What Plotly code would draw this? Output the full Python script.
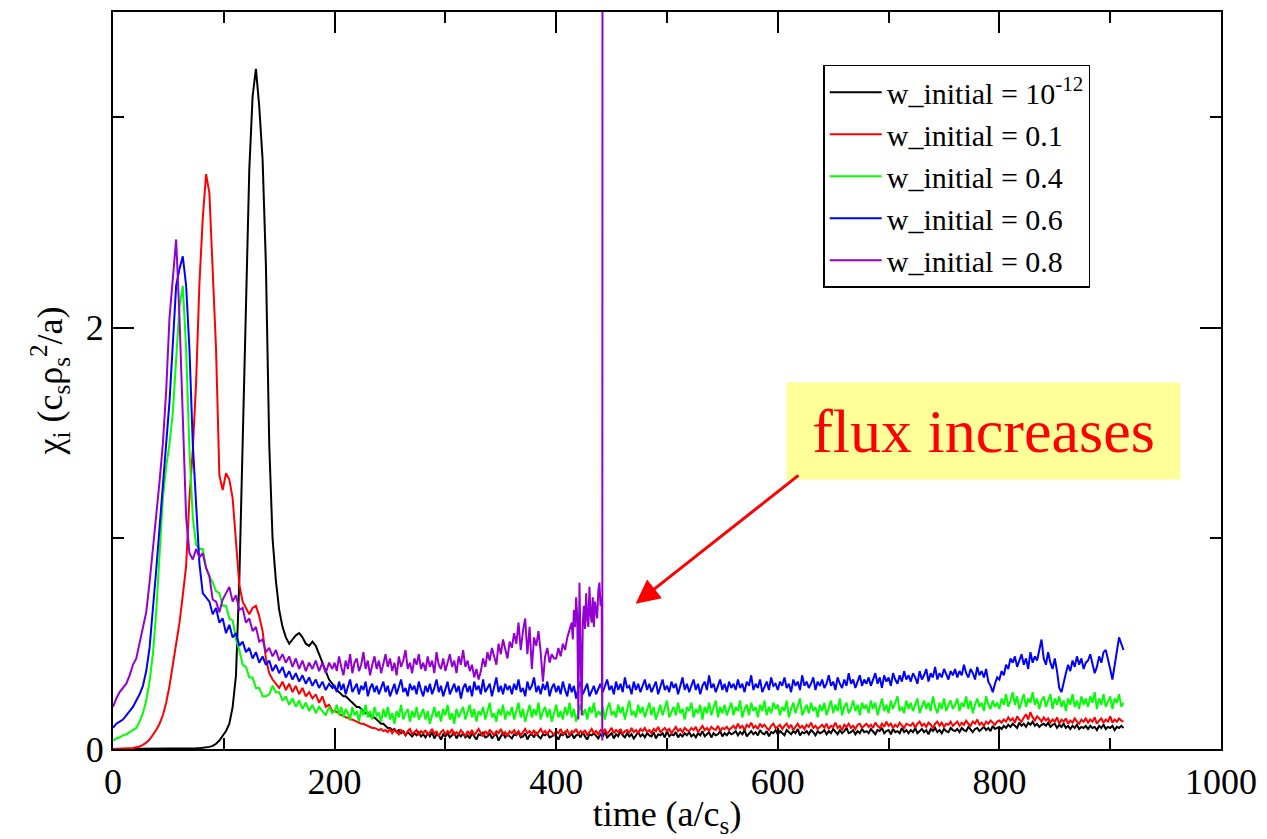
import plotly.graph_objects as go

# ---------------- data ----------------
# early part of every run: t = 0, 3, ..., 198
t_early = list(range(0, 199, 3))
# later, noisy part: t = 200, 202, ..., 912
t_late = list(range(200, 913, 2))

black_early = [0, 0, 0, 0, 0, 0, 0, 0, 0, 0,
               0, 0, 0, 0, 0, 0, 0, 0, 0, 0,
               0, 0, 0.001, 0.001, 0.002, 0.003, 0.004, 0.005, 0.007, 0.01,
               0.015, 0.025, 0.04, 0.06, 0.085, 0.12, 0.2, 0.35, 0.8, 1.45,
               2.1, 2.75, 3.1, 3.23, 3.05, 2.8, 2.3, 1.45, 1.0, 0.8,
               0.66, 0.58, 0.53, 0.5, 0.52, 0.54, 0.55, 0.53, 0.5, 0.49,
               0.51, 0.49, 0.45, 0.41, 0.37, 0.33, 0.31]
black_late = [
    0.29, 0.28, 0.27, 0.26, 0.25, 0.25, 0.24, 0.23, 0.22, 0.21, 0.2, 0.2, 0.19, 0.18, 0.17, 0.17, 0.16, 0.15, 0.15, 0.14,
    0.13, 0.12, 0.12, 0.11, 0.1, 0.1, 0.09, 0.095, 0.08, 0.09, 0.075, 0.085, 0.065, 0.08, 0.07, 0.06, 0.075, 0.065, 0.08, 0.06,
    0.07, 0.055, 0.075, 0.06, 0.08, 0.05, 0.07, 0.065, 0.045, 0.07, 0.06, 0.075, 0.055, 0.065, 0.08, 0.05, 0.07, 0.06, 0.075, 0.055,
    0.065, 0.05, 0.075, 0.06, 0.045, 0.07, 0.065, 0.08, 0.055, 0.06, 0.075, 0.05, 0.065, 0.07, 0.04, 0.06, 0.075, 0.055, 0.07, 0.06,
    0.05, 0.07, 0.065, 0.08, 0.055, 0.06, 0.075, 0.045, 0.065, 0.07, 0.055, 0.08, 0.06, 0.05, 0.07, 0.065, 0.075, 0.055, 0.06, 0.07,
    0.06, 0.045, 0.07, 0.065, 0.08, 0.055, 0.06, 0.075, 0.05, 0.065, 0.07, 0.055, 0.08, 0.06, 0.045, 0.07, 0.065, 0.075, 0.06, 0.05,
    0.07, 0.06, 0.08, 0.055, 0.065, 0.075, 0.05, 0.07, 0.06, 0.085, 0.065, 0.055, 0.075, 0.06, 0.07, 0.05, 0.065, 0.08, 0.06, 0.07,
    0.055, 0.075, 0.065, 0.06, 0.08, 0.05, 0.07, 0.065, 0.075, 0.055, 0.085, 0.06, 0.07, 0.065, 0.08, 0.055, 0.07, 0.06, 0.075, 0.065,
    0.08, 0.06, 0.07, 0.055, 0.075, 0.065, 0.085, 0.06, 0.07, 0.08, 0.055, 0.075, 0.065, 0.07, 0.085, 0.06, 0.075, 0.065, 0.08, 0.07,
    0.075, 0.085, 0.065, 0.08, 0.07, 0.09, 0.06, 0.075, 0.085, 0.07, 0.08, 0.065, 0.09, 0.075, 0.07, 0.085, 0.06, 0.08, 0.075, 0.09,
    0.07, 0.085, 0.075, 0.065, 0.09, 0.08, 0.07, 0.085, 0.075, 0.095, 0.065, 0.08, 0.075, 0.085, 0.07, 0.09, 0.08, 0.065, 0.085, 0.075,
    0.08, 0.09, 0.07, 0.085, 0.075, 0.095, 0.08, 0.07, 0.09, 0.075, 0.085, 0.1, 0.075, 0.08, 0.09, 0.07, 0.085, 0.075, 0.095, 0.08,
    0.085, 0.075, 0.095, 0.08, 0.07, 0.09, 0.085, 0.1, 0.075, 0.085, 0.09, 0.07, 0.095, 0.08, 0.085, 0.075, 0.1, 0.08, 0.09, 0.075,
    0.09, 0.08, 0.1, 0.075, 0.085, 0.095, 0.08, 0.09, 0.07, 0.095, 0.085, 0.1, 0.08, 0.09, 0.075, 0.095, 0.085, 0.08, 0.1, 0.09,
    0.085, 0.095, 0.08, 0.1, 0.09, 0.085, 0.105, 0.09, 0.08, 0.095, 0.1, 0.085, 0.095, 0.105, 0.09, 0.1, 0.085, 0.11, 0.095, 0.1,
    0.105, 0.095, 0.11, 0.1, 0.115, 0.105, 0.12, 0.11, 0.1, 0.125, 0.11, 0.12, 0.105, 0.125, 0.115, 0.13, 0.11, 0.12, 0.105, 0.115,
    0.12, 0.11, 0.125, 0.105, 0.115, 0.12, 0.1, 0.115, 0.105, 0.12, 0.1, 0.11, 0.095, 0.11, 0.1, 0.115, 0.095, 0.105, 0.1, 0.11,
    0.095, 0.11, 0.1, 0.105, 0.09, 0.11, 0.1, 0.115, 0.095, 0.105, 0.1, 0.11, 0.09, 0.105, 0.1, 0.11, 0.1]

red_early = [0, 0, 0, 0.001, 0.002, 0.003, 0.005, 0.008, 0.012, 0.02,
             0.03, 0.045, 0.065, 0.09, 0.12, 0.16, 0.22, 0.3, 0.4, 0.5,
             0.6, 0.73, 0.87, 1.19, 1.42, 1.74, 2.21, 2.52, 2.73, 2.64,
             2.3, 1.9, 1.3, 1.23, 1.31, 1.28, 1.19, 1.0, 0.78, 0.7,
             0.67, 0.64, 0.67, 0.68, 0.63, 0.56, 0.43, 0.36, 0.33, 0.31,
             0.29, 0.32, 0.28, 0.31, 0.27, 0.3, 0.26, 0.29, 0.25, 0.27,
             0.24, 0.26, 0.22, 0.25, 0.2, 0.21, 0.18]
red_late = [
    0.18, 0.175, 0.17, 0.16, 0.16, 0.15, 0.15, 0.14, 0.14, 0.135, 0.13, 0.125, 0.12, 0.12, 0.115, 0.11, 0.105, 0.1, 0.1, 0.095,
    0.09, 0.095, 0.085, 0.09, 0.08, 0.095, 0.075, 0.09, 0.085, 0.07, 0.09, 0.08, 0.065, 0.085, 0.095, 0.07, 0.08, 0.09, 0.065, 0.085,
    0.075, 0.09, 0.065, 0.08, 0.095, 0.07, 0.085, 0.06, 0.08, 0.09, 0.07, 0.085, 0.075, 0.095, 0.065, 0.08, 0.07, 0.09, 0.075, 0.06,
    0.085, 0.07, 0.09, 0.065, 0.08, 0.095, 0.075, 0.06, 0.085, 0.07, 0.09, 0.08, 0.065, 0.085, 0.075, 0.095, 0.07, 0.08, 0.06, 0.085,
    0.075, 0.09, 0.07, 0.085, 0.065, 0.08, 0.095, 0.075, 0.085, 0.07, 0.09, 0.065, 0.08, 0.095, 0.075, 0.085, 0.07, 0.09, 0.08, 0.065,
    0.085, 0.075, 0.095, 0.07, 0.08, 0.09, 0.065, 0.085, 0.08, 0.095, 0.07, 0.085, 0.075, 0.09, 0.065, 0.08, 0.095, 0.075, 0.085, 0.07,
    0.09, 0.08, 0.095, 0.07, 0.085, 0.1, 0.075, 0.09, 0.08, 0.095, 0.07, 0.085, 0.09, 0.075, 0.1, 0.08, 0.09, 0.075, 0.095, 0.085,
    0.1, 0.08, 0.09, 0.075, 0.095, 0.085, 0.105, 0.08, 0.09, 0.1, 0.085, 0.095, 0.075, 0.09, 0.105, 0.085, 0.095, 0.08, 0.1, 0.09,
    0.085, 0.1, 0.09, 0.105, 0.08, 0.095, 0.11, 0.09, 0.1, 0.085, 0.105, 0.095, 0.09, 0.11, 0.085, 0.1, 0.095, 0.105, 0.09, 0.1,
    0.11, 0.095, 0.12, 0.1, 0.11, 0.09, 0.115, 0.105, 0.125, 0.1, 0.11, 0.095, 0.12, 0.105, 0.115, 0.1, 0.09, 0.11, 0.12, 0.1,
    0.105, 0.115, 0.095, 0.11, 0.12, 0.1, 0.115, 0.09, 0.105, 0.12, 0.1, 0.11, 0.095, 0.115, 0.105, 0.125, 0.1, 0.11, 0.095, 0.105,
    0.115, 0.1, 0.12, 0.095, 0.11, 0.105, 0.125, 0.1, 0.11, 0.09, 0.115, 0.105, 0.12, 0.1, 0.11, 0.095, 0.115, 0.12, 0.1, 0.11,
    0.12, 0.105, 0.115, 0.1, 0.125, 0.11, 0.1, 0.12, 0.105, 0.13, 0.11, 0.12, 0.1, 0.115, 0.105, 0.125, 0.11, 0.1, 0.12, 0.115,
    0.11, 0.125, 0.1, 0.12, 0.13, 0.11, 0.12, 0.105, 0.125, 0.115, 0.1, 0.12, 0.13, 0.11, 0.125, 0.105, 0.12, 0.115, 0.13, 0.11,
    0.12, 0.13, 0.11, 0.125, 0.115, 0.135, 0.12, 0.11, 0.13, 0.12, 0.14, 0.115, 0.125, 0.11, 0.13, 0.12, 0.135, 0.125, 0.115, 0.13,
    0.135, 0.125, 0.14, 0.13, 0.15, 0.135, 0.145, 0.125, 0.155, 0.14, 0.13, 0.15, 0.165, 0.14, 0.175, 0.15, 0.135, 0.155, 0.145, 0.13,
    0.15, 0.135, 0.145, 0.125, 0.14, 0.13, 0.15, 0.12, 0.14, 0.13, 0.145, 0.12, 0.135, 0.125, 0.145, 0.13, 0.12, 0.14, 0.13, 0.145,
    0.125, 0.14, 0.13, 0.15, 0.12, 0.135, 0.145, 0.125, 0.14, 0.13, 0.155, 0.125, 0.14, 0.13, 0.145, 0.135, 0.13]

green_early = [0.04, 0.05, 0.055, 0.065, 0.07, 0.08, 0.09, 0.1, 0.13, 0.17,
               0.23, 0.32, 0.45, 0.65, 0.92, 1.19, 1.34, 1.45, 1.6, 1.85,
               2.1, 2.2, 1.9, 1.42, 1.1, 0.97, 0.95, 0.95, 0.86, 0.82,
               0.79, 0.75, 0.74, 0.68, 0.68, 0.62, 0.61, 0.52, 0.47, 0.4,
               0.39, 0.34, 0.34, 0.29, 0.29, 0.25, 0.25, 0.26, 0.3, 0.27,
               0.27, 0.23, 0.25, 0.21, 0.24, 0.2, 0.23, 0.19, 0.22, 0.18,
               0.21, 0.17, 0.2, 0.18, 0.16, 0.2, 0.17]
green_late = [
    0.18, 0.21, 0.16, 0.2, 0.15, 0.19, 0.17, 0.14, 0.2, 0.16, 0.18, 0.13, 0.19, 0.16, 0.21, 0.15, 0.18, 0.14, 0.2, 0.16,
    0.17, 0.13, 0.19, 0.15, 0.2, 0.14, 0.17, 0.12, 0.18, 0.15, 0.21, 0.14, 0.17, 0.19, 0.13, 0.18, 0.15, 0.2, 0.14, 0.17,
    0.19, 0.14, 0.18, 0.12, 0.16, 0.2, 0.15, 0.18, 0.13, 0.19, 0.16, 0.21, 0.14, 0.17, 0.12, 0.19, 0.15, 0.18, 0.2, 0.14,
    0.17, 0.21, 0.15, 0.19, 0.13, 0.18, 0.16, 0.2, 0.14, 0.18, 0.22, 0.15, 0.17, 0.13, 0.19, 0.16, 0.21, 0.14, 0.18, 0.16,
    0.2, 0.14, 0.18, 0.22, 0.15, 0.19, 0.13, 0.17, 0.21, 0.15, 0.19, 0.16, 0.22, 0.14, 0.18, 0.2, 0.15, 0.19, 0.13, 0.17,
    0.21, 0.15, 0.18, 0.14, 0.2, 0.16, 0.22, 0.15, 0.19, 0.13, 0.18, 0.21, 0.16, 0.19, 0.14, 0.2, 0.17, 0.22, 0.15, 0.18,
    0.16, 0.2, 0.14, 0.19, 0.22, 0.16, 0.18, 0.15, 0.21, 0.17, 0.2, 0.14, 0.19, 0.23, 0.16, 0.18, 0.15, 0.21, 0.17, 0.2,
    0.15, 0.19, 0.22, 0.16, 0.2, 0.14, 0.18, 0.21, 0.16, 0.19, 0.23, 0.15, 0.18, 0.2, 0.16, 0.22, 0.17, 0.19, 0.14, 0.2,
    0.18, 0.22, 0.15, 0.19, 0.17, 0.21, 0.14, 0.2, 0.17, 0.22, 0.16, 0.19, 0.23, 0.15, 0.2, 0.17, 0.21, 0.16, 0.19, 0.22,
    0.16, 0.2, 0.18, 0.23, 0.15, 0.19, 0.21, 0.16, 0.22, 0.18, 0.2, 0.15, 0.21, 0.18, 0.23, 0.16, 0.2, 0.17, 0.22, 0.19,
    0.21, 0.16, 0.2, 0.18, 0.23, 0.15, 0.19, 0.22, 0.17, 0.2, 0.24, 0.16, 0.19, 0.21, 0.17, 0.22, 0.18, 0.2, 0.15, 0.21,
    0.18, 0.22, 0.16, 0.2, 0.23, 0.17, 0.21, 0.18, 0.24, 0.16, 0.2, 0.22, 0.17, 0.19, 0.23, 0.18, 0.21, 0.16, 0.22, 0.19,
    0.21, 0.17, 0.23, 0.19, 0.22, 0.16, 0.2, 0.24, 0.18, 0.21, 0.17, 0.23, 0.19, 0.22, 0.25, 0.18, 0.2, 0.17, 0.23, 0.19,
    0.22, 0.18, 0.21, 0.24, 0.17, 0.2, 0.23, 0.19, 0.22, 0.18, 0.25, 0.2, 0.17, 0.22, 0.19, 0.24, 0.18, 0.21, 0.23, 0.19,
    0.21, 0.24, 0.18, 0.22, 0.2, 0.25, 0.19, 0.23, 0.17, 0.21, 0.24, 0.2, 0.22, 0.18, 0.25, 0.21, 0.19, 0.23, 0.2, 0.22,
    0.19, 0.24, 0.21, 0.26, 0.2, 0.23, 0.27, 0.21, 0.25, 0.19, 0.23, 0.26, 0.2, 0.24, 0.22, 0.27, 0.21, 0.24, 0.19, 0.23,
    0.25, 0.2, 0.23, 0.26, 0.19, 0.24, 0.21, 0.25, 0.2, 0.23, 0.18, 0.24, 0.21, 0.26, 0.2, 0.23, 0.19, 0.25, 0.21, 0.24,
    0.2, 0.25, 0.22, 0.27, 0.19, 0.24, 0.21, 0.26, 0.2, 0.23, 0.25, 0.19, 0.24, 0.22, 0.26, 0.2, 0.22]

blue_early = [0.1, 0.12, 0.13, 0.14, 0.16, 0.18, 0.2, 0.23, 0.26, 0.3,
              0.37, 0.48, 0.65, 0.85, 1.05, 1.27, 1.45, 1.65, 1.9, 2.2,
              2.28, 2.34, 2.2, 1.9, 1.45, 1.15, 0.88, 0.74, 0.72, 0.7,
              0.64, 0.67, 0.6, 0.62, 0.55, 0.59, 0.53, 0.55, 0.49, 0.51,
              0.46, 0.48, 0.43, 0.46, 0.41, 0.44, 0.4, 0.42, 0.37, 0.4,
              0.36, 0.39, 0.34, 0.37, 0.33, 0.36, 0.32, 0.35, 0.31, 0.34,
              0.3, 0.33, 0.29, 0.32, 0.28, 0.31, 0.29]
blue_late = [
    0.3, 0.27, 0.32, 0.28, 0.31, 0.26, 0.3, 0.33, 0.27, 0.29, 0.31, 0.26, 0.3, 0.28, 0.32, 0.25, 0.29, 0.31, 0.27, 0.3,
    0.26, 0.29, 0.32, 0.27, 0.3, 0.25, 0.28, 0.31, 0.26, 0.3, 0.33, 0.27, 0.29, 0.25, 0.31, 0.28, 0.3, 0.26, 0.32, 0.28,
    0.25, 0.3, 0.27, 0.31, 0.26, 0.29, 0.33, 0.27, 0.3, 0.25, 0.28, 0.32, 0.26, 0.29, 0.31, 0.27, 0.3, 0.24, 0.29, 0.31,
    0.27, 0.3, 0.25, 0.32, 0.28, 0.3, 0.26, 0.33, 0.27, 0.29, 0.31, 0.25, 0.29, 0.34, 0.27, 0.3, 0.26, 0.31, 0.28, 0.3,
    0.26, 0.31, 0.28, 0.33, 0.27, 0.29, 0.25, 0.32, 0.28, 0.3, 0.34, 0.27, 0.3, 0.26, 0.31, 0.28, 0.32, 0.25, 0.29, 0.31,
    0.27, 0.3, 0.26, 0.32, 0.28, 0.25, 0.31, 0.27, 0.3, 0.24, 0.29, 0.32, 0.26, 0.29, 0.31, 0.25, 0.28, 0.3, 0.26, 0.29,
    0.31, 0.27, 0.3, 0.33, 0.28, 0.3, 0.26, 0.32, 0.28, 0.31, 0.27, 0.34, 0.29, 0.3, 0.26, 0.32, 0.28, 0.31, 0.27, 0.3,
    0.33, 0.28, 0.31, 0.27, 0.3, 0.32, 0.26, 0.29, 0.33, 0.28, 0.3, 0.27, 0.32, 0.29, 0.31, 0.26, 0.3, 0.34, 0.28, 0.31,
    0.27, 0.3, 0.33, 0.28, 0.31, 0.26, 0.3, 0.32, 0.28, 0.35, 0.29, 0.31, 0.27, 0.3, 0.33, 0.28, 0.31, 0.27, 0.32, 0.29,
    0.31, 0.28, 0.33, 0.29, 0.31, 0.27, 0.32, 0.3, 0.35, 0.28, 0.31, 0.29, 0.33, 0.27, 0.3, 0.32, 0.28, 0.34, 0.3, 0.31,
    0.28, 0.32, 0.3, 0.34, 0.29, 0.31, 0.27, 0.33, 0.3, 0.32, 0.28, 0.35, 0.3, 0.32, 0.29, 0.31, 0.34, 0.28, 0.32, 0.3,
    0.33, 0.29, 0.31, 0.35, 0.3, 0.32, 0.28, 0.34, 0.31, 0.29, 0.33, 0.3, 0.36, 0.31, 0.33, 0.29, 0.32, 0.35, 0.3, 0.33,
    0.31, 0.34, 0.3, 0.33, 0.36, 0.31, 0.34, 0.29, 0.35, 0.32, 0.34, 0.3, 0.36, 0.33, 0.31, 0.35, 0.32, 0.37, 0.33, 0.35,
    0.32, 0.36, 0.34, 0.31, 0.37, 0.33, 0.35, 0.38, 0.32, 0.36, 0.34, 0.39, 0.33, 0.36, 0.34, 0.38, 0.35, 0.33, 0.37, 0.35,
    0.38, 0.34, 0.37, 0.35, 0.4, 0.36, 0.34, 0.38, 0.36, 0.33, 0.39, 0.35, 0.37, 0.34, 0.38, 0.32, 0.3, 0.27, 0.31, 0.34,
    0.33, 0.37, 0.35, 0.4, 0.38, 0.43, 0.41, 0.44, 0.39, 0.42, 0.45, 0.4, 0.43, 0.38, 0.46, 0.41, 0.44, 0.42, 0.47, 0.52,
    0.43, 0.4, 0.46, 0.41, 0.38, 0.43, 0.37, 0.29, 0.27, 0.32, 0.36, 0.4, 0.37, 0.42, 0.39, 0.44, 0.4, 0.43, 0.38, 0.41,
    0.42, 0.45, 0.4, 0.36, 0.39, 0.44, 0.41, 0.46, 0.47, 0.43, 0.38, 0.33, 0.4, 0.46, 0.53, 0.5, 0.47]

violet_early = [0.2, 0.24, 0.27, 0.29, 0.31, 0.35, 0.4, 0.43, 0.5, 0.57,
                0.65, 0.79, 0.95, 1.08, 1.27, 1.45, 1.7, 2.05, 2.25, 2.42,
                2.05, 1.58, 1.1, 0.93, 0.9, 0.95, 0.91, 0.93, 0.86, 0.82,
                0.71, 0.7, 0.65, 0.71, 0.74, 0.77, 0.7, 0.73, 0.66, 0.67,
                0.6, 0.62, 0.56, 0.58, 0.51, 0.52, 0.46, 0.48, 0.44, 0.47,
                0.42, 0.45, 0.41, 0.44, 0.39, 0.43, 0.38, 0.42, 0.37, 0.41,
                0.38, 0.42, 0.37, 0.41, 0.36, 0.41, 0.38]
# violet run, t = 200, 202, ..., 412
t_violet_mid = list(range(200, 413, 2))
violet_mid = [
    0.41, 0.37, 0.44, 0.39, 0.35, 0.42, 0.38, 0.45, 0.36, 0.41, 0.43, 0.37, 0.4, 0.46, 0.38, 0.42, 0.35, 0.4, 0.44, 0.38,
    0.42, 0.36, 0.4, 0.45, 0.39, 0.43, 0.37, 0.41, 0.35, 0.44, 0.39, 0.42, 0.47, 0.38, 0.41, 0.36, 0.43, 0.4, 0.45, 0.38,
    0.41, 0.37, 0.44, 0.39, 0.42, 0.36, 0.46, 0.4, 0.38, 0.43, 0.37, 0.41, 0.45, 0.39, 0.42, 0.36, 0.44, 0.4, 0.47, 0.39,
    0.42, 0.37, 0.4, 0.34, 0.38, 0.33, 0.37, 0.43, 0.39, 0.46, 0.42, 0.48, 0.44, 0.4, 0.5, 0.45, 0.52, 0.47, 0.43, 0.51,
    0.48, 0.55, 0.5, 0.6, 0.47, 0.56, 0.62, 0.45, 0.58, 0.38, 0.53, 0.49, 0.56, 0.46, 0.32, 0.44, 0.48, 0.41, 0.45, 0.43,
    0.43, 0.48, 0.44, 0.5, 0.47, 0.53, 0.56]
# violet run just before it blows up
t_violet_end = [414, 415, 416, 417, 418, 419, 420, 421, 422, 423, 424, 425,
                426, 427, 428, 429, 430, 431, 432, 433, 434, 435, 436, 437,
                438, 439, 440, 441, 441.6, 441.9]
violet_end = [0.6, 0.52, 0.66, 0.58, 0.72, 0.63, 0.14, 0.79, 0.55, 0.16,
              0.6, 0.68, 0.57, 0.74, 0.62, 0.58, 0.77, 0.64, 0.6, 0.72,
              0.58, 0.7, 0.66, 0.62, 0.75, 0.79, 0.68, 0.72, 0.04, 6.0]

series_names = ["w_initial = 10<sup>-12</sup>", "w_initial = 0.1",
                "w_initial = 0.4", "w_initial = 0.6", "w_initial = 0.8"]
series_colors = ["#000000", "#ff0000", "#00ff00", "#0000ff", "#9400d3"]

x_ticks = [0, 200, 400, 600, 800, 1000]
y_ticks = [0, 2]

# ---------------- figure ----------------
series = [
    (t_early + t_late, black_early + black_late),
    (t_early + t_late, red_early + red_late),
    (t_early + t_late, green_early + green_late),
    (t_early + t_late, blue_early + blue_late),
    (t_early + t_violet_mid + t_violet_end, violet_early + violet_mid + violet_end),
]

FONT = "Liberation Serif"

fig = go.Figure()
for (xs, ys), name, col in zip(series, series_names, series_colors):
    fig.add_trace(go.Scatter(x=xs, y=ys, mode="lines", name=name,
                             line=dict(color=col, width=2)))

axis_common = dict(
    showgrid=False, zeroline=False,
    showline=True, linecolor="black", linewidth=2, mirror="ticks",
    ticks="inside", ticklen=21, tickwidth=2, tickcolor="black",
    tickfont=dict(family=FONT, size=36, color="black"),
)

fig.update_xaxes(range=[0, 1000], tickvals=x_ticks,
                 minor=dict(dtick=100, ticks="inside", ticklen=11,
                            tickwidth=2, tickcolor="black"),
                 title=dict(text="time (a/c<sub>s</sub>)",
                            font=dict(family=FONT, size=36, color="black"),
                            standoff=2),
                 **axis_common)
fig.update_yaxes(range=[0, 3.5], tickvals=y_ticks,
                 minor=dict(dtick=1, ticks="inside", ticklen=11,
                            tickwidth=2, tickcolor="black"),
                 title=dict(text="χ<sub>i</sub> (c<sub>s</sub>ρ<sub>s</sub><sup>2</sup>/a)",
                            font=dict(family=FONT, size=36, color="black"),
                            standoff=12),
                 **axis_common)

fig.update_layout(
    width=1267, height=839,
    margin=dict(l=113, r=41, t=10, b=88),
    paper_bgcolor="white", plot_bgcolor="white",
    font=dict(family=FONT, color="black"),
    legend=dict(x=0.641, y=0.9285, xanchor="left", yanchor="top",
                bgcolor="white", bordercolor="black", borderwidth=1.5,
                font=dict(family=FONT, size=30, color="black"),
                itemwidth=52),
    showlegend=True,
)

# callout box
fig.add_annotation(x=785.5, y=1.512, xref="x", yref="y",
                   text="flux increases", showarrow=False,
                   font=dict(family=FONT, size=62, color="#ff0000"),
                   bgcolor="#ffff99", width=393, height=96,
                   xanchor="center", yanchor="middle", borderpad=0)
# arrow
fig.add_annotation(x=471.7, y=0.69, ax=620, ay=1.305,
                   xref="x", yref="y", axref="x", ayref="y",
                   text="", showarrow=True, arrowhead=2, arrowsize=1.6,
                   arrowwidth=3, arrowcolor="#ff0000")

fig.write_html("out.html")
